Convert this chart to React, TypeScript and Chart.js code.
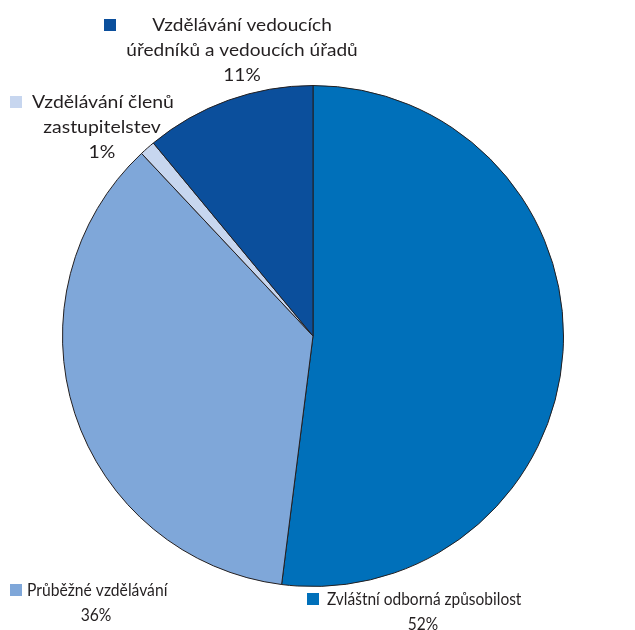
import React, { useEffect, useRef } from "react";
import { Chart, registerables } from "chart.js";

Chart.register(...registerables);

const categories = [
  "Zvláštní odborná způsobilost",
  "Průběžné vzdělávání",
  "Vzdělávání členů zastupitelstev",
  "Vzdělávání vedoucích úředníků a vedoucích úřadů",
];
const values = [52, 36, 1, 11];
const colors = ["#0070BA", "#7FA7D9", "#C7D6EF", "#0B4F9C"];
const labelLines = [
  ["Zvláštní odborná způsobilost"],
  ["Průběžné vzdělávání"],
  ["Vzdělávání členů", "zastupitelstev"],
  ["Vzdělávání vedoucích", "úředníků a vedoucích úřadů"],
];

// label layout: marker box, text centre x, first line y, horizontal text scale
const labelLayout = [
  { mx: 307, my: 593, tx: 423, ty: 599, align: "left", lx: 327, sx: 0.86 },
  { mx: 10, my: 584, tx: 96, ty: 590, align: "left", lx: 27, sx: 0.87 },
  { mx: 10, my: 96, tx: 102, ty: 102, align: "left", lx: 32, sx: 1.08 },
  { mx: 104, my: 19, tx: 242, ty: 25, align: "center", lx: 242, sx: 1.06 },
];

function drawText(ctx: any, text: string, x: number, y: number, align: string, sx: number) {
  ctx.save();
  ctx.translate(x, y);
  ctx.scale(sx, 1);
  ctx.textAlign = align;
  ctx.fillText(text, 0, 0);
  ctx.restore();
}

const labelPlugin = {
  id: "sliceLabels",
  afterDraw(chart: any) {
    const ctx = chart.ctx;
    ctx.save();
    ctx.font = '18px "Lato", "DejaVu Sans", sans-serif';
    ctx.textBaseline = "middle";
    labelLines.forEach((lines, i) => {
      const L = labelLayout[i];
      ctx.fillStyle = colors[i];
      ctx.fillRect(L.mx, L.my, 12, 12);
      ctx.fillStyle = "#231F20";
      lines.forEach((line, j) => {
        const y = L.ty + j * 25;
        if (j === 0 && L.align === "left") {
          drawText(ctx, line, L.lx, y, "left", L.sx);
        } else {
          drawText(ctx, line, L.tx, y, "center", L.sx);
        }
      });
      drawText(ctx, values[i] + "%", L.tx, L.ty + lines.length * 25, "center", L.sx);
    });
    ctx.restore();
  },
};

export default function App() {
  const ref = useRef<HTMLCanvasElement>(null);
  useEffect(() => {
    if (!ref.current) return;
    const chart = new Chart(ref.current, {
      type: "pie",
      data: {
        labels: categories,
        datasets: [
          {
            data: values,
            backgroundColor: colors,
            borderColor: "#231F20",
            borderWidth: 1,
          },
        ],
      },
      options: {
        animation: false,
        responsive: false,
        layout: { padding: { left: 62, right: 71, top: 85, bottom: 43 } },
        plugins: { legend: { display: false }, tooltip: { enabled: false } },
      },
      plugins: [labelPlugin],
    });
    return () => chart.destroy();
  }, []);
  return (
    <div style={{ position: "absolute", left: 0, top: 0, width: 635, height: 630, background: "#fff" }}>
      <canvas ref={ref} width={635} height={630} />
    </div>
  );
}
